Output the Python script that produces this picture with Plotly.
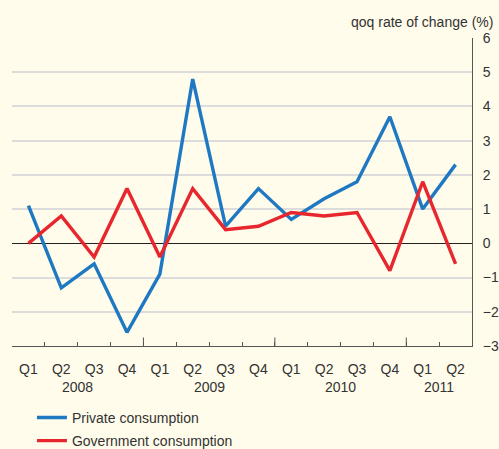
import plotly.graph_objects as go

quarters = ["Q1", "Q2", "Q3", "Q4", "Q1", "Q2", "Q3", "Q4", "Q1", "Q2", "Q3", "Q4", "Q1", "Q2"]
years = ["2008", "2009", "2010", "2011"]
year_centers = [1.5, 5.5, 9.5, 12.5]
private = [1.1, -1.3, -0.6, -2.6, -0.9, 4.8, 0.5, 1.6, 0.7, 1.3, 1.8, 3.7, 1.0, 2.3]
government = [0.0, 0.8, -0.4, 1.6, -0.4, 1.6, 0.4, 0.5, 0.9, 0.8, 0.9, -0.8, 1.8, -0.6]
y_ticks = [6, 5, 4, 3, 2, 1, 0, -1, -2, -3]

x = list(range(len(quarters)))
BG = "#FFFCEB"
FONT = "Liberation Sans, Arial, sans-serif"
TXT = "#333333"

fig = go.Figure()
fig.add_trace(go.Scatter(x=x, y=private, mode="lines", name="Private consumption",
                         legendgroup="a", line=dict(color="#1E78C2", width=3.4)))
fig.add_trace(go.Scatter(x=x, y=government, mode="lines", name="Government consumption",
                         legendgroup="b", line=dict(color="#E8262D", width=3.4)))

fig.update_layout(
    width=499, height=449,
    paper_bgcolor=BG, plot_bgcolor=BG,
    margin=dict(l=12, r=27, t=38, b=103, autoexpand=False),
    font=dict(family=FONT, size=14, color=TXT),
    showlegend=True,
    legend=dict(x=0.064, xref="container", y=0.105, yref="container",
                xanchor="left", yanchor="top", orientation="v",
                bgcolor="rgba(0,0,0,0)", font=dict(size=14, color=TXT),
                tracegroupgap=2),
)

fig.update_xaxes(
    range=[-0.5, 13.5], tickmode="array", tickvals=x, ticktext=quarters,
    ticks="", showgrid=False, zeroline=False, automargin=False,
    showline=True, linecolor="#555555", linewidth=1,
    ticklabelstandoff=10,
    minor=dict(tickmode="array", tickvals=[i - 0.5 for i in range(1, 14)],
               ticks="inside", ticklen=4, tickcolor="#555555", tickwidth=1, showgrid=False),
    tickfont=dict(size=14, color=TXT),
)
fig.update_yaxes(
    range=[-3, 6], side="right", tickmode="array", tickvals=y_ticks,
    showgrid=True, gridcolor="#DCDCDC", gridwidth=2, automargin=False,
    zeroline=True, zerolinecolor="#222222", zerolinewidth=1,
    showline=True, linecolor="#555555", linewidth=1, ticks="",
    ticklabelstandoff=7,
    tickfont=dict(size=14, color=TXT),
)

# longer ticks at year boundaries
for b in [3.5, 7.5, 11.5]:
    fig.add_shape(type="line", xref="x", yref="y", x0=b, x1=b, y0=-3, y1=-2.75,
                  line=dict(color="#555555", width=1))

for yr, c in zip(years, year_centers):
    fig.add_annotation(text=yr, x=c, xref="x", y=0, yref="paper", yanchor="top",
                       yshift=-31, showarrow=False, font=dict(size=14, color=TXT))

fig.add_annotation(text="qoq rate of change (%)", x=1, xref="paper", xanchor="right", xshift=23,
                   y=1, yref="paper", yanchor="bottom", yshift=6, showarrow=False,
                   font=dict(size=14, color=TXT))

fig.write_html(
    "out.html",
    config={"displayModeBar": False},
    post_script="document.body.style.margin='0';document.body.style.background='%s';"
                "document.body.style.overflow='hidden';" % BG,
)
